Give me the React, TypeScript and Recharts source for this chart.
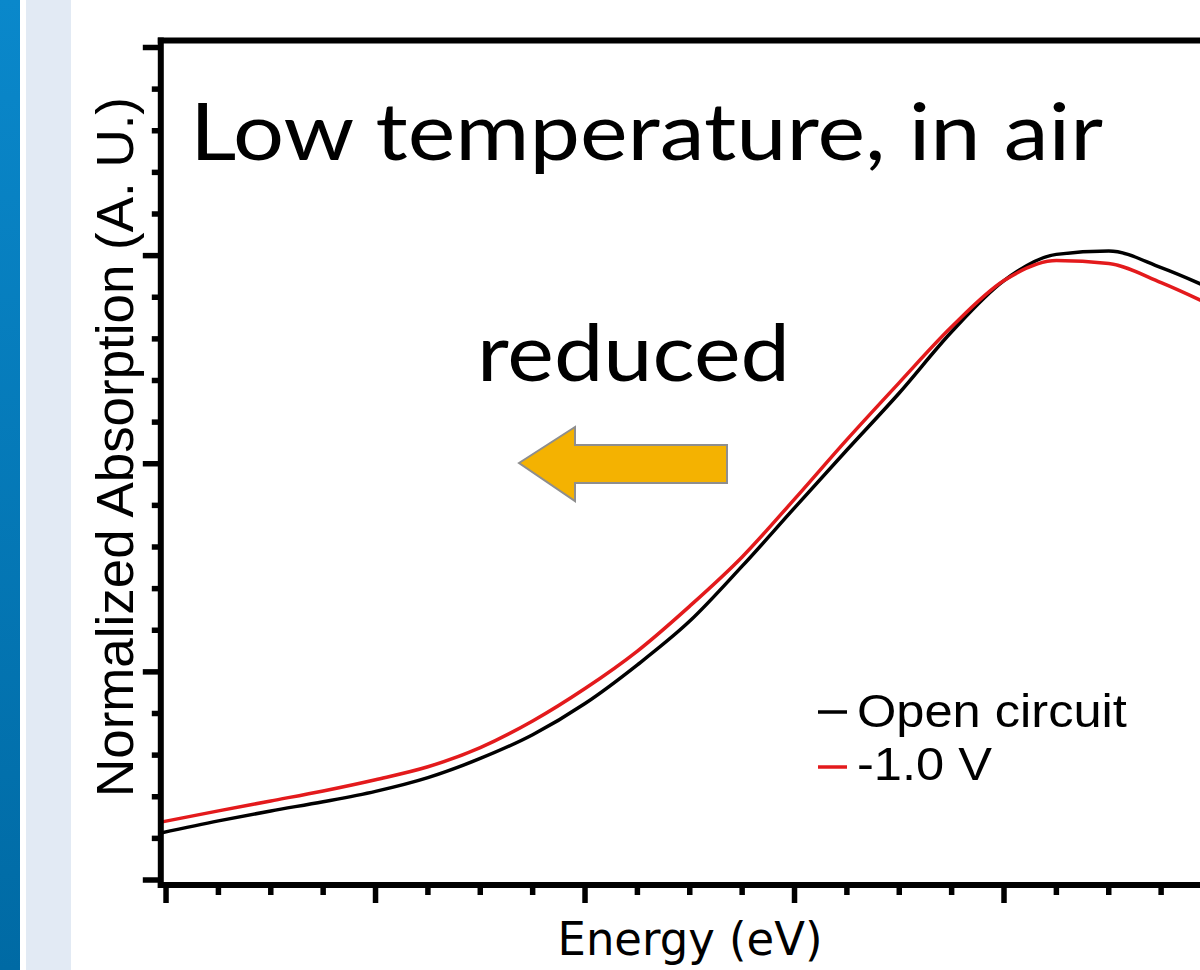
import React from 'react';
import { LineChart, Line, XAxis, YAxis, ReferenceLine, Legend } from 'recharts';

// energy axis (arbitrary units, no tick labels in the source)
const energy = [-0.05, 0.5, 1, 1.5, 2, 2.5, 3, 3.5, 4, 4.5, 5, 5.5, 6, 6.5, 7, 7.5, 8, 8.5, 9, 9.5, 10];
const openCircuit = [0.113, 0.142, 0.166, 0.188, 0.213, 0.246, 0.292, 0.349, 0.424, 0.517, 0.622, 0.754, 0.894, 1.033, 1.17, 1.317, 1.44, 1.503, 1.511, 1.471, 1.418];
const minusOneVolt = [0.139, 0.166, 0.19, 0.214, 0.241, 0.272, 0.318, 0.382, 0.46, 0.55, 0.658, 0.776, 0.915, 1.058, 1.195, 1.329, 1.44, 1.488, 1.481, 1.435, 1.378];

const seriesNames = ['Open circuit', '-1.0 V'];

const xTicks = [0, 0.5, 1, 1.5, 2, 2.5, 3, 3.5, 4, 4.5, 5, 5.5, 6, 6.5, 7, 7.5, 8, 8.5, 9, 9.5, 10];
const xMajor = [0, 2, 4, 6, 8, 10];
const yTicks = [0, 0.1, 0.2, 0.3, 0.4, 0.5, 0.6, 0.7, 0.8, 0.9, 1, 1.1, 1.2, 1.3, 1.4, 1.5, 1.6, 1.7, 1.8, 1.9, 2];
const yMajor = [0, 0.5, 1, 1.5, 2];

const X_DOMAIN = [-0.05, 10];
const Y_DOMAIN = [-0.012, 2.0168];

const data = energy.map((e, i) => ({
  energy: e,
  open: openCircuit[i],
  reduced: minusOneVolt[i],
}));

const XTick = (props: any) => {
  const { x, y, payload } = props;
  const major = xMajor.includes(payload.value);
  return <line x1={x} x2={x} y1={y} y2={y + (major ? 18 : 10)} stroke="#000" strokeWidth={5.5} />;
};

const YTick = (props: any) => {
  const { x, y, payload } = props;
  const major = yMajor.includes(payload.value);
  return <line x1={x} x2={x - (major ? 18 : 9)} y1={y} y2={y} stroke="#000" strokeWidth={5.5} />;
};

const LegendBox = (props: any) => {
  const items = [...(props.payload || [])].sort(
    (a: any, b: any) => seriesNames.indexOf(a.value) - seriesNames.indexOf(b.value)
  );
  return (
    <svg width={360} height={120} style={{ display: 'block' }}>
      {items.map((entry: any, i: number) => (
        <g key={entry.value}>
          <line x1={8} x2={37} y1={32 + i * 55} y2={32 + i * 55} stroke={entry.color} strokeWidth={3.5} />
          <text
            transform={`translate(47,${47 + i * 53}) scale(1.1,1)`}
            fontFamily="'Liberation Sans', Arial, sans-serif"
            fontSize={46}
            fill="#000"
          >
            {entry.value}
          </text>
        </g>
      ))}
    </svg>
  );
};

export default function App() {
  return (
    <div
      style={{
        position: 'fixed',
        left: 0,
        top: 0,
        width: 1200,
        height: 970,
        overflow: 'hidden',
        background: '#fff',
      }}
    >
      <div
        style={{
          position: 'absolute',
          left: 0,
          top: 0,
          width: 20,
          height: 970,
          background: 'linear-gradient(#0a88cb, #006aa4)',
        }}
      />
      <div style={{ position: 'absolute', left: 26, top: 0, width: 45, height: 970, background: '#e2eaf4' }} />

      <div style={{ position: 'absolute', left: 0, top: 0 }}>
        <LineChart width={1300} height={970} data={data} margin={{ top: 40.5, right: 86.5, bottom: 0, left: 0 }}>
          <XAxis
            dataKey="energy"
            type="number"
            domain={X_DOMAIN}
            allowDataOverflow
            ticks={xTicks}
            interval={0}
            height={85}
            tickSize={0}
            tickMargin={0}
            tickLine={false}
            tick={XTick}
            axisLine={{ stroke: '#000', strokeWidth: 6, strokeLinecap: 'square' }}
          />
          <YAxis
            type="number"
            domain={Y_DOMAIN}
            allowDataOverflow
            ticks={yTicks}
            interval={0}
            width={160.8}
            tickSize={0}
            tickMargin={0}
            tickLine={false}
            tick={YTick}
            axisLine={{ stroke: '#000', strokeWidth: 6, strokeLinecap: 'square' }}
          />
          <ReferenceLine
            y={Y_DOMAIN[1]}
            ifOverflow="visible"
            stroke="#000"
            strokeWidth={6}
            strokeLinecap="square"
          />
          <Line
            type="monotone"
            dataKey="open"
            name={seriesNames[0]}
            stroke="#000"
            strokeWidth={3.5}
            dot={false}
            isAnimationActive={false}
          />
          <Line
            type="monotone"
            dataKey="reduced"
            name={seriesNames[1]}
            stroke="#e31a1c"
            strokeWidth={3.5}
            dot={false}
            isAnimationActive={false}
          />
          <Legend
            layout="vertical"
            align="center"
            verticalAlign="middle"
            itemSorter={null}
            content={LegendBox}
            wrapperStyle={{ left: 810, top: 680, width: 360, height: 120 }}
          />
        </LineChart>
      </div>

      <svg
        width={1200}
        height={970}
        style={{ position: 'absolute', left: 0, top: 0, pointerEvents: 'none' }}
      >
        <text x={190} y={160} fontFamily="Lato, 'Open Sans', sans-serif" fontSize={80} textLength={913} lengthAdjust="spacingAndGlyphs">
          Low temperature, in air
        </text>
        <text x={477} y={381} fontFamily="Lato, 'Open Sans', sans-serif" fontSize={80} textLength={313} lengthAdjust="spacingAndGlyphs">
          reduced
        </text>
        <polygon
          points="519,463 575,427 575,445 727,445 727,483 575,483 575,501"
          fill="#f4b201"
          stroke="#8e8e8e"
          strokeWidth={2}
        />
        <text
          transform="translate(133,447) rotate(-90)"
          textAnchor="middle"
          fontFamily="'Liberation Sans', Arial, sans-serif"
          fontSize={51}
          textLength={700}
          lengthAdjust="spacingAndGlyphs"
        >
          Normalized Absorption (A. U.)
        </text>
        <text
          x={690}
          y={955}
          textAnchor="middle"
          fontFamily="'DejaVu Sans', Verdana, sans-serif"
          fontSize={46}
          textLength={265}
          lengthAdjust="spacingAndGlyphs"
        >
          Energy (eV)
        </text>
      </svg>
    </div>
  );
}
